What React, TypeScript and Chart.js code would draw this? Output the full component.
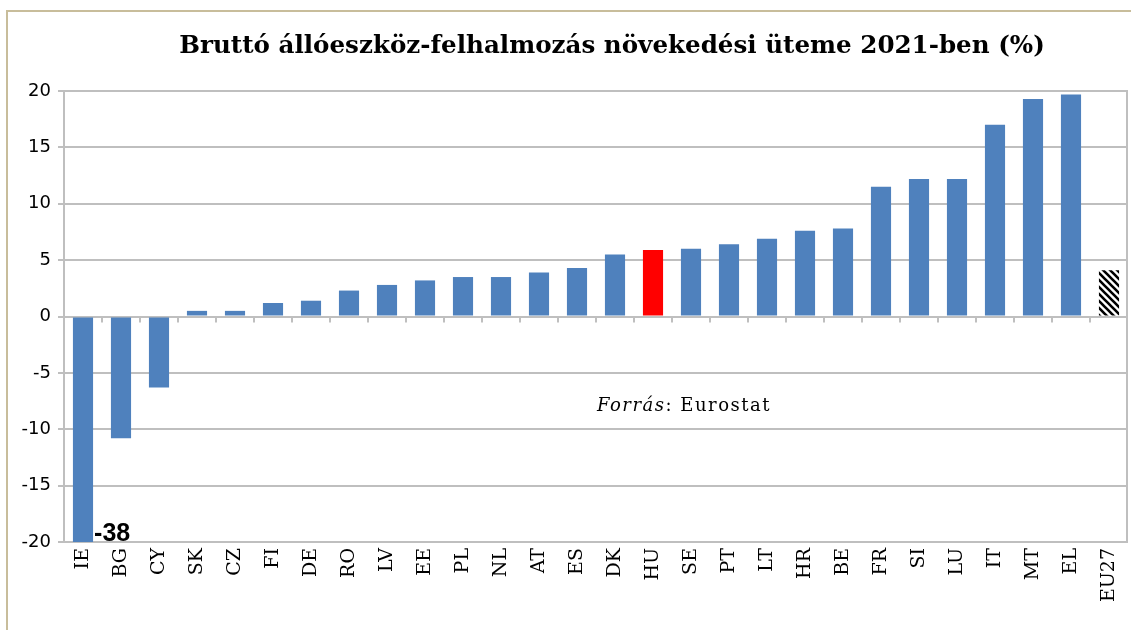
import React, { useEffect, useRef } from "react";
import { Chart, registerables } from "chart.js";

Chart.register(...registerables);

const categories = ["IE", "BG", "CY", "SK", "CZ", "FI", "DE", "RO", "LV", "EE", "PL", "NL", "AT", "ES", "DK", "HU", "SE", "PT", "LT", "HR", "BE", "FR", "SI", "LU", "IT", "MT", "EL", "EU27"];
const growth = [-38, -10.8, -6.3, 0.5, 0.5, 1.2, 1.4, 2.3, 2.8, 3.2, 3.5, 3.5, 3.9, 4.3, 5.5, 5.9, 6.0, 6.4, 6.9, 7.6, 7.8, 11.5, 12.2, 12.2, 17.0, 19.3, 19.7, 4.1];
const highlight = "HU";
const aggregate = "EU27";
const titleText = "Bruttó állóeszköz-felhalmozás növekedési üteme 2021-ben (%)";
const sourceLabel = "Forrás";
const sourceName = ": Eurostat";
const yMin = -20;
const yMax = 20;

const BLUE = "#4F81BD";
const RED = "#FF0000";
const GRID = "#BFBFBF";
const FRAME = "#C8BD9B";

function makeHatch(): CanvasPattern | string {
  const s = 7;
  const c = document.createElement("canvas");
  c.width = s;
  c.height = s;
  const g = c.getContext("2d");
  if (!g) return "#000";
  g.fillStyle = "#fff";
  g.fillRect(0, 0, s, s);
  g.strokeStyle = "#000";
  g.lineWidth = 2.6;
  g.beginPath();
  for (let k = -1; k <= 1; k++) {
    g.moveTo(-2 + k * s, -2);
    g.lineTo(s + 2 + k * s, s + 2);
  }
  g.stroke();
  const p = g.createPattern(c, "repeat");
  return p || "#000";
}

const decorPlugin = {
  id: "decor",
  beforeDraw(chart: any) {
    const ctx = chart.ctx;
    ctx.save();
    ctx.fillStyle = "#fff";
    ctx.fillRect(0, 0, chart.width, chart.height);
    ctx.strokeStyle = FRAME;
    ctx.lineWidth = 2;
    ctx.beginPath();
    ctx.moveTo(7, chart.height);
    ctx.lineTo(7, 11);
    ctx.lineTo(chart.width, 11);
    ctx.stroke();
    ctx.restore();
  },
  afterDraw(chart: any) {
    const ctx = chart.ctx;
    const area = chart.chartArea;
    const yScale = chart.scales.y;
    const y0 = yScale.getPixelForValue(0);
    ctx.save();
    // right border of plot area
    ctx.strokeStyle = GRID;
    ctx.lineWidth = 2;
    ctx.beginPath();
    ctx.moveTo(area.right - 1, area.top);
    ctx.lineTo(area.right - 1, area.bottom);
    ctx.stroke();
    // category tick marks on the zero line
    const n = categories.length;
    const w = (area.right - area.left) / n;
    ctx.beginPath();
    for (let k = 1; k < n; k++) {
      const x = Math.round(area.left + k * w);
      ctx.moveTo(x, y0);
      ctx.lineTo(x, y0 + 6);
    }
    ctx.stroke();

    // title
    ctx.fillStyle = "#000";
    ctx.textAlign = "center";
    ctx.textBaseline = "middle";
    let fs = 20;
    ctx.font = `bold ${fs}px "DejaVu Serif"`;
    const tw = ctx.measureText(titleText).width;
    fs = fs * 866 / tw;
    ctx.font = `bold ${fs}px "DejaVu Serif"`;
    ctx.fillText(titleText, 612, 47);

    // clipped value label
    const meta = chart.getDatasetMeta(0);
    const el: any = meta.data[0];
    if (el && growth[0] < yMin) {
      ctx.font = `bold 25px "Liberation Sans"`;
      ctx.textAlign = "left";
      ctx.textBaseline = "alphabetic";
      ctx.fillText(String(growth[0]), el.x + el.width / 2 + 1, area.bottom - 1);
    }

    // source
    ctx.textAlign = "left";
    ctx.textBaseline = "alphabetic";
    (ctx as any).letterSpacing = "1.5px";
    ctx.font = `italic 18px "DejaVu Serif"`;
    const sx = 597;
    const sy = 411;
    ctx.fillText(sourceLabel, sx, sy);
    const lw = ctx.measureText(sourceLabel).width;
    ctx.font = `18px "DejaVu Serif"`;
    ctx.fillText(sourceName, sx + lw, sy);
    (ctx as any).letterSpacing = "0px";
    ctx.restore();
  },
};

export default function App() {
  const ref = useRef<HTMLCanvasElement | null>(null);
  useEffect(() => {
    const canvas = ref.current;
    if (!canvas) return;
    const hatch = makeHatch();
    const colors = categories.map((c) => (c === highlight ? RED : c === aggregate ? hatch : BLUE));
    const chart = new Chart(canvas, {
      type: "bar",
      data: {
        labels: categories,
        datasets: [
          {
            data: growth,
            backgroundColor: colors as any,
            borderWidth: 0,
            categoryPercentage: 1,
            barPercentage: 0.53,
          },
        ],
      },
      options: {
        responsive: false,
        animation: false,
        maintainAspectRatio: false,
        layout: { padding: { top: 91, right: 3, left: 0, bottom: 0 } },
        plugins: {
          legend: { display: false },
          title: { display: false },
          tooltip: { enabled: false },
        },
        scales: {
          x: {
            grid: { display: false, drawTicks: false },
            border: { display: false },
            ticks: {
              autoSkip: false,
              maxRotation: 90,
              minRotation: 90,
              padding: 6,
              color: "#000",
              font: { family: "DejaVu Serif", size: 19 },
            },
            afterFit: (s: any) => {
              s.height = 88;
              s.paddingLeft = 0;
              s.paddingRight = 0;
            },
          },
          y: {
            min: yMin,
            max: yMax,
            ticks: {
              stepSize: 5,
              padding: 7,
              color: "#000",
              font: { family: "DejaVu Sans", size: 18 },
            },
            grid: { color: GRID, lineWidth: 2, tickLength: 6 },
            border: { color: GRID, width: 2 },
            afterFit: (s: any) => {
              s.width = 64;
              s.paddingTop = 0;
              s.paddingBottom = 0;
            },
          },
        },
      },
      plugins: [decorPlugin],
    });
    return () => chart.destroy();
  }, []);
  return (
    <div style={{ position: "fixed", left: 0, top: 0, width: 1131, height: 630, background: "#fff" }}>
      <canvas ref={ref} width={1131} height={630} style={{ display: "block" }} />
    </div>
  );
}
